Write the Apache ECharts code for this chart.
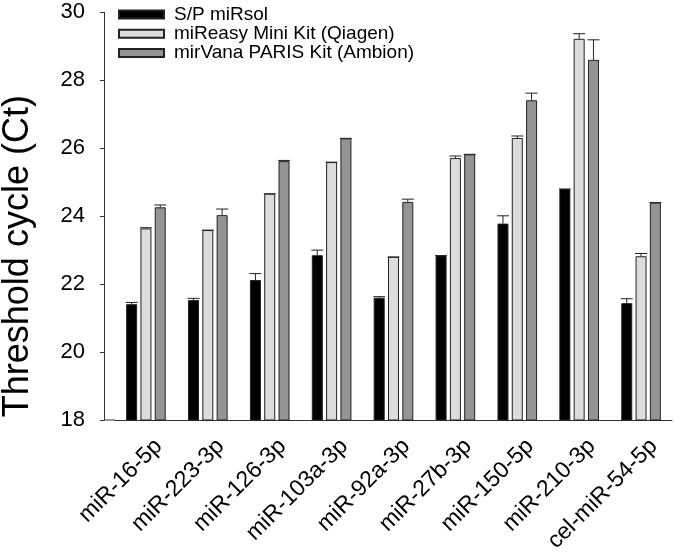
<!DOCTYPE html>
<html>
<head>
<meta charset="utf-8">
<script src="https://cdn.jsdelivr.net/npm/echarts@6/dist/echarts.min.js"></script>
<style>html,body{margin:0;padding:0;background:#fff;}#c{width:675px;height:559px;}</style>
</head>
<body>
<div id="c"></div>
<script>
const categories = ['miR-16-5p','miR-223-3p','miR-126-3p','miR-103a-3p','miR-92a-3p','miR-27b-3p','miR-150-5p','miR-210-3p','cel-miR-54-5p'];
const seriesNames = ['S/P miRsol','miReasy Mini Kit (Qiagen)','mirVana PARIS Kit (Ambion)'];
const spMirsol = [21.41, 21.53, 22.12, 22.85, 21.60, 22.84, 23.78, 24.80, 21.44];
const spMirsolErr = [0.05, 0.05, 0.19, 0.15, 0.03, 0, 0.23, 0, 0.13];
const mireasy = [23.64, 23.59, 24.66, 25.59, 22.80, 25.71, 26.30, 29.22, 22.82];
const mireasyErr = [0.02, 0, 0, 0, 0, 0.06, 0.06, 0.15, 0.08];
const mirvana = [24.26, 24.03, 25.62, 26.29, 24.42, 25.82, 27.41, 28.60, 24.40];
const mirvanaErr = [0.07, 0.18, 0.02, 0, 0.08, 0, 0.21, 0.59, 0];
const yTicks = [18, 20, 22, 24, 26, 28, 30];

const FONT = 'Liberation Sans, Arial, sans-serif';
const colors = ['#000000', '#dcdcdc', '#949494'];
const BAR_W = 11, GAP = 3.3;
const GRID = {left: 115, right: 3, top: 12.3, bottom: 139};
const Y_OFFSET = 11;

const values = [spMirsol, mireasy, mirvana];
const errs = [spMirsolErr, mireasyErr, mirvanaErr];

const bars = values.map((v, s) => ({
  name: seriesNames[s], type: 'bar', data: v,
  barWidth: BAR_W, barGap: (GAP / BAR_W * 100) + '%',
  itemStyle: {color: colors[s], borderColor: '#222', borderWidth: 1},
  z: 2
}));

const errSeries = errs.map((e, s) => ({
  type: 'custom', z: 3, silent: true,
  data: e.map((d, i) => [i, values[s][i], d]),
  renderItem: function (params, api) {
    const idx = api.value(0), v = api.value(1), err = api.value(2);
    const off = (s - 1) * (BAR_W + GAP);
    const p0 = api.coord([idx, v]);
    const p1 = api.coord([idx, v + err]);
    const x = p0[0] + off;
    const st = {stroke: '#222', lineWidth: 1};
    return {type: 'group', children: [
      {type: 'line', shape: {x1: x, y1: p0[1], x2: x, y2: p1[1]}, style: st},
      {type: 'line', shape: {x1: x - BAR_W / 2 - 0.5, y1: p1[1], x2: x + BAR_W / 2 + 0.5, y2: p1[1]}, style: st}
    ]};
  }
}));

const chart = echarts.init(document.getElementById('c'));
chart.setOption({
  animation: false,
  backgroundColor: '#fff',
  textStyle: {fontFamily: FONT},
  grid: Object.assign({containLabel: false, outerBoundsMode: 'none'}, GRID),
  legend: {
    data: seriesNames, orient: 'vertical', left: 118, top: 5, padding: 0,
    itemWidth: 45, itemHeight: 8, itemGap: 0.3,
    textStyle: {fontSize: 19, color: '#000', fontFamily: FONT, lineHeight: 18, padding: [0, 0, 0, 5]},
    icon: 'rect'
  },
  xAxis: {
    type: 'category', data: categories, boundaryGap: true,
    axisLine: {lineStyle: {color: '#333', width: 1}},
    axisTick: {alignWithLabel: true, length: 6, lineStyle: {color: '#333'}},
    axisLabel: {rotate: 45, fontSize: 23, color: '#000', margin: 10, fontFamily: FONT, interval: 0,
      verticalAlign: 'top', lineHeight: 36}
  },
  yAxis: {
    type: 'value', min: yTicks[0], max: yTicks[yTicks.length - 1], interval: 2,
    offset: Y_OFFSET,
    name: 'Threshold cycle (Ct)', nameLocation: 'middle', nameGap: 68,
    nameTextStyle: {fontSize: 36, color: '#000', fontFamily: FONT, padding: [0, 80, 0, 0]},
    axisLine: {show: true, lineStyle: {color: '#333', width: 1}},
    axisTick: {show: true, length: 4, lineStyle: {color: '#333'}},
    axisLabel: {fontSize: 22, color: '#000', margin: 19, fontFamily: FONT},
    splitLine: {show: false}
  },
  graphic: [{
    type: 'line', silent: true,
    shape: {x1: GRID.left - Y_OFFSET, y1: 559 - GRID.bottom, x2: GRID.left, y2: 559 - GRID.bottom},
    style: {stroke: '#333', lineWidth: 1}
  }],
  series: bars.concat(errSeries)
});
</script>
</body>
</html>
